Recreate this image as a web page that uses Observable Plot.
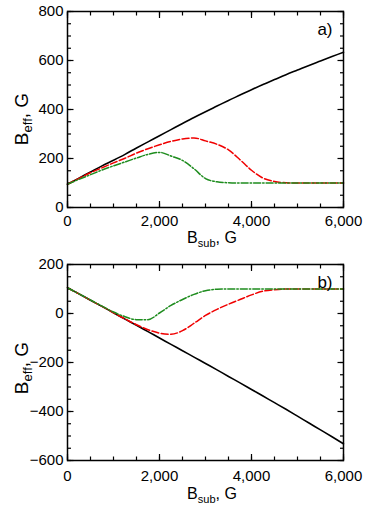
<!DOCTYPE html>
<html><head><meta charset="utf-8">
<script src="https://cdn.jsdelivr.net/npm/d3@7"></script>
<script src="https://cdn.jsdelivr.net/npm/@observablehq/plot@0.6"></script>
<style>body{margin:0;background:#fff} svg{display:block}</style>
</head><body><div id="chart"></div>
<script>
const bSub = [0,250,500,750,1000,1250,1500,1750,2000,2250,2500,2750,3000,3250,3500,3750,4000,4250,4500,4750,5000,5250,5500,5750,6000];
const aBlack = [95,120,145,170,193,217,243,268,293,318,343,367,391,414,437,459,481,502,522,542,561,580,598,616,634];
const aRed = [95,119,142,162,182,201,222,240,256,270,280,284,272,258,235,195,152,120,106,101,100,100,100,100,100];
const aGreen = [95,115,134,153,170,186,202,217,225,210,192,158,118,105,101,100,100,100,100,100,100,100,100,100,100];
const bBlack = [105,80,54,29,3,-23,-48,-74,-100,-126,-152,-178,-204,-230,-257,-283,-310,-337,-364,-391,-419,-447,-475,-503,-532];
const bRed = [105,80,54,29,3,-22,-46,-66,-80,-85,-70,-40,-8,17,38,57,76,91,97,100,100,100,100,100,100];
const bGreen = [105,80,55,30,6,-13,-25,-25,2,33,57,78,93,99,100,100,100,100,100,100,100,100,100,100,100];

const xMinor = [0,500,1000,1500,2000,2500,3000,3500,4000,4500,5000,5500,6000];
const xMajor = [0,2000,4000,6000];
const aYMinor = [0,50,100,150,200,250,300,350,400,450,500,550,600,650,700,750,800];
const aYMajor = [0,200,400,600,800];
const bYMinor = [-600,-550,-500,-450,-400,-350,-300,-250,-200,-150,-100,-50,0,50,100,150,200];
const bYMajor = [-600,-400,-200,0,200];

const panels = [
  {tag: "a)", yDomain: [0, 800], yMinor: aYMinor, yMajor: aYMajor, black: aBlack, red: aRed, green: aGreen,
   marginTop: 11, marginBottom: 49, xPad: 8, xTitleY: 243, yTitleY: 119},
  {tag: "b)", yDomain: [-600, 200], yMinor: bYMinor, yMajor: bYMajor, black: bBlack, red: bRed, green: bGreen,
   marginTop: 8, marginBottom: 52, xPad: 10, xTitleY: 243, yTitleY: 112}
];

const root = document.getElementById("chart");
for (const p of panels) {
  const data = bSub.map((x, i) => ({x, black: p.black[i], red: p.red[i], green: p.green[i]}));
  const tickStyle = {stroke: "black", strokeWidth: 1.2, fill: "none", label: null};
  const chart = Plot.plot({
    width: 366, height: 256,
    marginLeft: 67, marginRight: 23, marginTop: p.marginTop, marginBottom: p.marginBottom,
    style: {fontFamily: "'Liberation Sans', Arial, sans-serif", fontSize: "15px", color: "#000", background: "#fff", overflow: "visible"},
    x: {domain: [0, 6000]},
    y: {domain: p.yDomain},
    marks: [
      Plot.axisX(xMinor, {anchor: "bottom", tickSize: -3.5, ...tickStyle}),
      Plot.axisX(xMinor, {anchor: "top", tickSize: -3.5, ...tickStyle}),
      Plot.axisX(xMajor, {anchor: "bottom", tickSize: -6, ...tickStyle}),
      Plot.axisX(xMajor, {anchor: "top", tickSize: -6, ...tickStyle}),
      Plot.axisY(p.yMinor, {anchor: "left", tickSize: -4, ...tickStyle}),
      Plot.axisY(p.yMinor, {anchor: "right", tickSize: -4, ...tickStyle}),
      Plot.axisY(p.yMajor, {anchor: "left", tickSize: -6.5, ...tickStyle}),
      Plot.axisY(p.yMajor, {anchor: "right", tickSize: -6.5, ...tickStyle}),
      Plot.axisX(xMajor, {anchor: "bottom", tickSize: 0, tickPadding: p.xPad, tickFormat: d3.format(","), label: null}),
      Plot.axisY(p.yMajor, {anchor: "left", tickSize: 0, tickPadding: 4, tickFormat: d3.format(""), label: null}),
      Plot.line(data, {x: "x", y: "black", stroke: "black", strokeWidth: 1.6, curve: "monotone-x"}),
      Plot.line(data, {x: "x", y: "red", stroke: "#f00000", strokeWidth: 1.5, strokeDasharray: "7,2.5", curve: "monotone-x"}),
      Plot.line(data, {x: "x", y: "green", stroke: "#1e8c1e", strokeWidth: 1.5, strokeDasharray: "7,2,1.5,2", curve: "monotone-x"}),
      Plot.frame({stroke: "black", strokeWidth: 1.5}),
      Plot.text([p.tag], {frameAnchor: "top-right", dx: -11, dy: 18.5, textAnchor: "end", lineAnchor: "middle", fontSize: 17, fill: "black"})
    ]
  });
  const svg = d3.select(chart);
  const xr = chart.scale("x").range;
  const cx = (xr[0] + xr[1]) / 2;
  const xt = svg.append("text").attr("x", cx + 7).attr("y", p.xTitleY)
    .attr("text-anchor", "middle").attr("font-size", 16).attr("fill", "black");
  xt.append("tspan").text("B");
  xt.append("tspan").attr("font-size", 11).attr("dy", 3.5).text("sub");
  xt.append("tspan").attr("dy", -3.5).text(", G");
  const yt = svg.append("text").attr("transform", `translate(28,${p.yTitleY}) rotate(-90)`)
    .attr("text-anchor", "middle").attr("font-size", 19).attr("fill", "black");
  yt.append("tspan").text("B");
  yt.append("tspan").attr("font-size", 13).attr("dy", 4).text("eff");
  yt.append("tspan").attr("dy", -4).text(", G");
  root.appendChild(chart);
}
</script>
</body></html>
